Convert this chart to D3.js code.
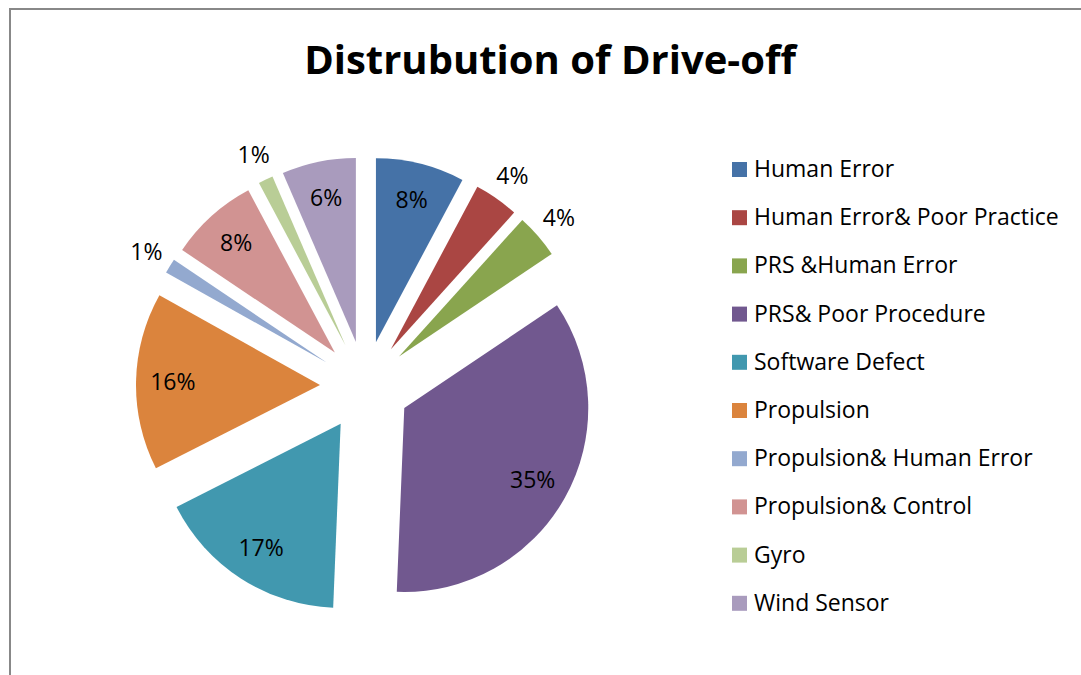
<!DOCTYPE html>
<html>
<head>
<meta charset="utf-8">
<script src="https://cdn.jsdelivr.net/npm/d3@7"></script>
<style>
  body { margin: 0; background: #fff; }
  text { font-family: "Open Sans", sans-serif; fill: #000; }
</style>
</head>
<body>
<div id="chart"></div>
<script>
// chart data (incident counts, shown as percentages)
var categories = ["Human Error", "Human Error& Poor Practice", "PRS &Human Error",
    "PRS& Poor Procedure", "Software Defect", "Propulsion", "Propulsion& Human Error",
    "Propulsion& Control", "Gyro", "Wind Sensor"];
var values = [6, 3, 3, 27, 13, 12, 1, 6, 1, 5];
var colors = ["#4572A7", "#AA4643", "#89A54E", "#71588F", "#4198AF",
    "#DB843D", "#93A9CF", "#D19392", "#B9CD96", "#A99BBD"];
var title = "Distrubution of Drive-off";

var width = 1081, height = 675;
var cx = 365, cy = 386,
    radius = 184,
    explode = 45;

var svg = d3.select("#chart")
    .append("svg")
        .attr("width", width)
        .attr("height", height);

// chart area border (only top and left are visible)
svg.append("path")
    .attr("d", "M10,675 L10,9 L1081,9")
    .attr("fill", "none")
    .attr("stroke", "#888")
    .attr("stroke-width", 2);

svg.append("text")
    .attr("x", 550)
    .attr("y", 74)
    .attr("text-anchor", "middle")
    .style("font-size", "40px")
    .style("font-weight", "bold")
    .text(title);

var total = d3.sum(values);

var pie = d3.pie().sort(null).value(function(d) { return d; });
var arc = d3.arc().innerRadius(0).outerRadius(radius);

var slices = pie(values);

function mid(d) { return (d.startAngle + d.endAngle) / 2; }

var g = svg.append("g")
    .attr("transform", "translate(" + cx + "," + cy + ")");

var slice = g.selectAll(".slice")
    .data(slices)
    .enter().append("g")
        .attr("class", "slice")
        .attr("transform", function(d) {
            var a = mid(d);
            return "translate(" + (Math.sin(a) * explode) + "," + (-Math.cos(a) * explode) + ")";
        });

slice.append("path")
    .attr("d", arc)
    .attr("fill", function(d, i) { return colors[i]; });

// small slices get their label outside
function labelR(d) { return d.value / total < 0.05 ? radius * 1.15 : radius * 0.8; }

slice.append("text")
    .attr("text-anchor", "middle")
    .attr("dy", "0.35em")
    .attr("x", function(d) { return Math.sin(mid(d)) * labelR(d); })
    .attr("y", function(d) { return -Math.cos(mid(d)) * labelR(d); })
    .style("font-size", "23px")
    .text(function(d) { return Math.round(d.value / total * 100) + "%"; });

// legend
var legend = svg.append("g")
    .attr("transform", "translate(732,169)");

var item = legend.selectAll(".item")
    .data(categories)
    .enter().append("g")
        .attr("class", "item")
        .attr("transform", function(d, i) { return "translate(0," + (i * 48.2) + ")"; });

item.append("rect")
    .attr("x", 0)
    .attr("y", -7)
    .attr("width", 15)
    .attr("height", 15)
    .attr("fill", function(d, i) { return colors[i]; });

item.append("text")
    .attr("x", 22)
    .attr("dy", "0.35em")
    .style("font-size", "23px")
    .text(function(d) { return d; });
</script>
</body>
</html>
